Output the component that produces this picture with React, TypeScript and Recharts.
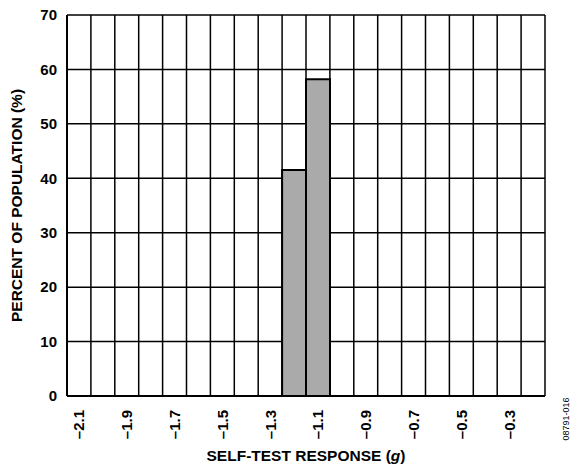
import React from "react";
import { BarChart, Bar, XAxis, YAxis, CartesianGrid, Label } from "recharts";

// bins of 0.1 g, from –2.1 to –0.2
const bins = [
  "–2.1", "–2.0", "–1.9", "–1.8", "–1.7", "–1.6", "–1.5", "–1.4", "–1.3", "–1.2",
  "–1.1", "–1.0", "–0.9", "–0.8", "–0.7", "–0.6", "–0.5", "–0.4", "–0.3", "–0.2",
];
const percent = [
  0, 0, 0, 0, 0, 0, 0, 0, 0, 41.5,
  58.2, 0, 0, 0, 0, 0, 0, 0, 0, 0,
];
const xTickLabels = ["–2.1", "–1.9", "–1.7", "–1.5", "–1.3", "–1.1", "–0.9", "–0.7", "–0.5", "–0.3"];
const yTicks = [0, 10, 20, 30, 40, 50, 60, 70];

const data = bins.map((b, i) => ({ bin: b, pct: percent[i] }));

const FONT = "'Liberation Sans', Arial, sans-serif";

const XTick = (props: any) => {
  const { x, y, payload } = props;
  if (!xTickLabels.includes(payload.value)) return <g />;
  return (
    <text
      x={x}
      y={y + 6}
      transform={`rotate(-90 ${x} ${y + 6})`}
      textAnchor="end"
      dominantBaseline="central"
      fontFamily={FONT}
      fontWeight="bold"
      fontSize={15}
      fill="#000"
    >
      {payload.value}
    </text>
  );
};

export default function App() {
  return (
    <div style={{ position: "absolute", left: 0, top: 0, width: 571, height: 467, background: "#fff" }}>
      <BarChart
        width={571}
        height={467}
        data={data}
        barCategoryGap={0}
        margin={{ top: 15, right: 26, bottom: 0, left: 0 }}
      >
        <CartesianGrid
          stroke="#000"
          strokeWidth={1.5}
          fill="#fff"
          verticalCoordinatesGenerator={({ offset }: any) =>
            Array.from({ length: bins.length + 1 }, (_, i) => offset.left + (i * offset.width) / bins.length)
          }
        />
        <XAxis
          dataKey="bin"
          interval={0}
          height={71}
          tickLine={false}
          axisLine={{ stroke: "#000", strokeWidth: 2 }}
          tick={<XTick />}
        >
          <Label
            content={({ viewBox }: any) => (
              <g fontFamily={FONT} fill="#000">
                <text
                  x={viewBox.x + viewBox.width / 2}
                  y={461}
                  textAnchor="middle"
                  fontWeight="bold"
                  fontSize={15.5}
                >
                  SELF-TEST RESPONSE (<tspan fontStyle="italic">g</tspan>)
                </text>
                <text
                  x={566}
                  y={419}
                  transform="rotate(-90 566 419)"
                  textAnchor="middle"
                  dominantBaseline="central"
                  fontSize={9}
                >
                  08791-016
                </text>
              </g>
            )}
          />
        </XAxis>
        <YAxis
          width={67}
          domain={[0, 70]}
          ticks={yTicks}
          interval={0}
          tickLine={false}
          tickSize={6}
          tickMargin={4}
          axisLine={{ stroke: "#000", strokeWidth: 2 }}
          tick={{ fill: "#000", fontFamily: FONT, fontWeight: "bold", fontSize: 15 }}
        >
          <Label
            content={({ viewBox }: any) => {
              const cx = viewBox.x + 16;
              const cy = viewBox.y + viewBox.height / 2;
              return (
                <text
                  x={cx}
                  y={cy}
                  transform={`rotate(-90 ${cx} ${cy})`}
                  textAnchor="middle"
                  dominantBaseline="central"
                  fontFamily={FONT}
                  fontWeight="bold"
                  fontSize={15.5}
                  fill="#000"
                >
                  PERCENT OF POPULATION (%)
                </text>
              );
            }}
          />
        </YAxis>
        <Bar dataKey="pct" fill="#aaaaaa" stroke="#000" strokeWidth={2} isAnimationActive={false} />
      </BarChart>
    </div>
  );
}
